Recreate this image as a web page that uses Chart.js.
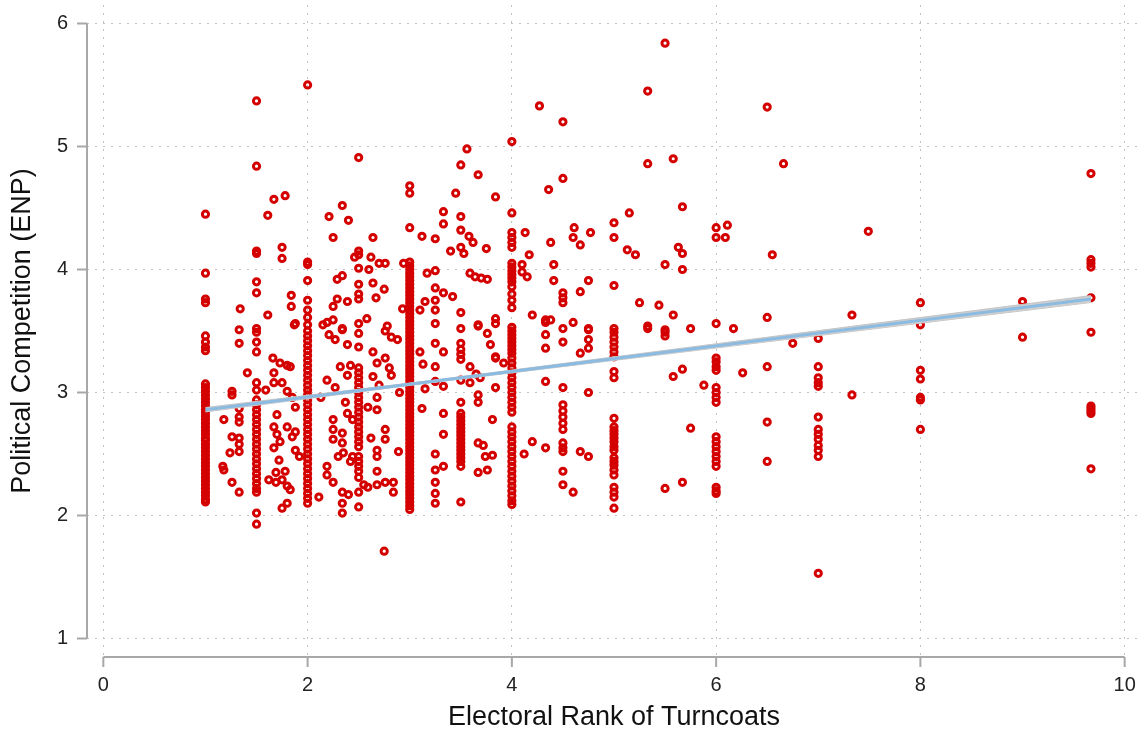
<!DOCTYPE html>
<html>
<head>
<meta charset="utf-8">
<script src="https://cdn.jsdelivr.net/npm/chart.js@4/dist/chart.umd.min.js"></script>
<style>
    body { margin: 0; background: #fff; }
    #wrap { width: 1145px; height: 740px; position: relative; }
</style>
</head>
<body>
<div id="wrap"><canvas id="enpChart"></canvas></div>
<script>
// tick labels
const xTickVals = [0, 2, 4, 6, 8, 10];
const yTickVals = [1, 2, 3, 4, 5, 6];

// ENP values stacked on the common electoral ranks
const rankCols = [1, 1.5, 2, 2.5, 3, 3.5, 4, 4.5, 5, 5.5, 6, 6.5, 7, 8, 9, 9.67];
const enpAt1 = [4.45, 3.97, 3.76, 3.73, 3.46, 3.41, 3.37, 3.34, 3.07, 3.04, 3.01, 2.98, 2.95, 2.92, 2.89, 2.86, 2.84, 2.81, 2.78, 2.75, 2.72, 2.69, 2.66, 2.63, 2.61, 2.58, 2.55, 2.52, 2.49, 2.46, 2.43, 2.40, 2.37, 2.34, 2.31, 2.28, 2.25, 2.22, 2.19, 2.16, 2.13, 2.11];
const enpAt1_5 = [5.37, 4.84, 4.15, 4.13, 3.90, 3.81, 3.52, 3.49, 3.41, 3.33, 3.08, 3.02, 2.94, 2.90, 2.86, 2.82, 2.78, 2.74, 2.70, 2.66, 2.62, 2.58, 2.54, 2.50, 2.46, 2.42, 2.38, 2.34, 2.30, 2.26, 2.22, 2.19, 2.02, 1.93];
const enpAt2 = [5.50, 4.06, 4.04, 3.91, 3.75, 3.67, 3.61, 3.55, 3.50, 3.46, 3.42, 3.38, 3.34, 3.30, 3.26, 3.22, 3.18, 3.14, 3.10, 3.06, 3.02, 2.98, 2.94, 2.90, 2.86, 2.82, 2.78, 2.74, 2.70, 2.66, 2.62, 2.58, 2.54, 2.50, 2.46, 2.42, 2.38, 2.34, 2.30, 2.26, 2.22, 2.18, 2.14, 2.10];
const enpAt2_5 = [4.91, 4.15, 4.12, 4.01, 3.88, 3.80, 3.76, 3.56, 3.48, 3.37, 3.20, 3.16, 3.12, 3.08, 3.04, 3.00, 2.96, 2.92, 2.88, 2.84, 2.80, 2.76, 2.72, 2.68, 2.64, 2.60, 2.56, 2.48, 2.44, 2.40, 2.36, 2.31, 2.19, 2.07];
const enpAt3 = [4.68, 4.62, 4.34, 4.06, 4.03, 4.00, 3.97, 3.94, 3.91, 3.88, 3.85, 3.82, 3.79, 3.76, 3.73, 3.70, 3.67, 3.64, 3.61, 3.58, 3.55, 3.52, 3.49, 3.46, 3.43, 3.40, 3.37, 3.34, 3.31, 3.28, 3.25, 3.22, 3.19, 3.16, 3.13, 3.10, 3.07, 3.04, 3.01, 2.98, 2.95, 2.92, 2.89, 2.86, 2.83, 2.80, 2.77, 2.74, 2.71, 2.68, 2.65, 2.62, 2.59, 2.56, 2.53, 2.50, 2.47, 2.44, 2.41, 2.38, 2.35, 2.32, 2.29, 2.26, 2.23, 2.20, 2.17, 2.14, 2.11, 2.08, 2.05];
const enpAt3_5 = [4.85, 4.43, 4.32, 4.18, 3.65, 3.52, 3.40, 3.35, 3.31, 3.27, 3.10, 2.92, 2.83, 2.80, 2.77, 2.74, 2.71, 2.68, 2.65, 2.62, 2.59, 2.56, 2.53, 2.50, 2.47, 2.44, 2.40, 2.11];
const enpAt4 = [5.04, 4.46, 4.30, 4.26, 4.22, 4.18, 4.05, 4.02, 3.99, 3.96, 3.93, 3.90, 3.86, 3.80, 3.75, 3.69, 3.53, 3.50, 3.47, 3.44, 3.41, 3.38, 3.35, 3.32, 3.28, 3.24, 3.20, 3.16, 3.12, 3.08, 3.04, 3.00, 2.96, 2.92, 2.88, 2.84, 2.72, 2.68, 2.64, 2.60, 2.56, 2.52, 2.48, 2.44, 2.40, 2.36, 2.32, 2.28, 2.24, 2.20, 2.16, 2.12, 2.09];
const enpAt4_5 = [5.20, 4.74, 3.81, 3.77, 3.73, 3.52, 3.41, 3.04, 2.90, 2.85, 2.80, 2.75, 2.70, 2.59, 2.55, 2.52, 2.36, 2.25];
const enpAt5 = [4.38, 4.26, 3.87, 3.52, 3.49, 3.45, 3.41, 3.37, 3.33, 3.29, 3.17, 3.12, 2.79, 2.72, 2.69, 2.66, 2.63, 2.60, 2.56, 2.53, 2.47, 2.44, 2.41, 2.37, 2.33, 2.23, 2.19, 2.15, 2.06];
const enpAt5_5 = [5.84, 3.51, 3.49, 3.46, 2.22];
const enpAt6 = [4.34, 4.26, 3.56, 3.28, 3.25, 3.21, 3.18, 3.04, 3.00, 2.96, 2.92, 2.64, 2.60, 2.56, 2.52, 2.48, 2.44, 2.40, 2.23, 2.20, 2.18];
const enpAt6_5 = [5.32, 3.61, 3.21, 2.76, 2.44];
const enpAt7 = [3.44, 3.21, 3.12, 3.08, 3.05, 2.80, 2.70, 2.66, 2.62, 2.57, 2.53, 2.48, 1.53];
const enpAt8 = [3.73, 3.55, 3.18, 3.11, 2.96, 2.94, 2.70];
const enpAt9 = [3.74, 3.45];
const enpAt9_67 = [4.78, 4.08, 4.05, 4.02, 3.77, 3.49, 2.89, 2.87, 2.85, 2.83, 2.38];
const enpCols = [enpAt1, enpAt1_5, enpAt2, enpAt2_5, enpAt3, enpAt3_5, enpAt4, enpAt4_5, enpAt5, enpAt5_5, enpAt6, enpAt6_5, enpAt7, enpAt8, enpAt9, enpAt9_67];

// turncoats at in-between ranks
const otherRank = [
    1.18, 1.26, 1.26, 1.26, 1.33, 1.33, 1.33, 1.24, 1.18, 1.17, 1.26, 1.33, 1.33, 1.33, 1.33, 1.33, 1.41, 1.34, 1.33,
    1.61, 1.67, 1.78, 1.75, 1.75, 1.84, 1.84, 1.61, 1.87, 1.66, 1.67, 1.67, 1.73, 1.80, 1.83, 1.59, 1.75, 1.80, 1.85, 1.70, 1.67, 1.70, 1.73, 1.67, 1.80, 1.88, 1.85, 1.88, 1.92, 1.69, 1.69, 1.62, 1.75, 1.80, 1.83, 1.80, 1.75, 1.88, 1.88, 1.72, 1.78,
    2.21, 2.34, 2.40, 2.25, 2.29, 2.34, 2.25, 2.29, 2.39, 2.19, 2.25, 2.34, 2.46, 2.21, 2.27, 2.34, 2.39, 2.32, 2.39, 2.19, 2.27, 2.13, 2.37, 2.39, 2.44, 2.25, 2.25, 2.25, 2.34, 2.34, 2.35, 2.30, 2.42, 2.19, 2.19, 2.25, 2.34, 2.40, 2.34, 2.34, 2.11, 2.44, 2.15, 2.42,
    2.64, 2.62, 2.70, 2.76, 2.60, 2.64, 2.75, 2.67, 2.78, 2.93, 2.94, 2.64, 2.68, 2.76, 2.82, 2.88, 2.76, 2.80, 2.82, 2.64, 2.70, 2.68, 2.68, 2.59, 2.76, 2.76, 2.62, 2.68, 2.68, 2.89, 2.68, 2.68, 2.76, 2.84, 2.84, 2.55, 2.59, 2.75, 2.58, 2.90,
    3.12, 3.25, 3.33, 3.33, 3.45, 3.40, 3.17, 3.25, 3.25, 3.33, 3.15, 3.25, 3.42, 3.10, 3.25, 3.25, 3.10, 3.13, 3.25, 3.25, 3.33, 3.25, 3.33, 3.12, 3.33, 3.33, 3.25, 3.25, 3.25, 3.25, 3.33, 3.25, 3.15,
    3.56, 3.67, 3.84, 3.59, 3.64, 3.70, 3.76, 3.75, 3.67, 3.84, 3.59, 3.65, 3.69, 3.67, 3.67, 3.81, 3.67, 3.72, 3.74, 3.81, 3.67, 3.76, 3.59, 3.84, 3.84, 3.76, 3.79, 3.67, 3.84, 3.92, 3.84, 3.53, 3.58, 3.62,
    4.27, 4.36, 4.13, 4.38, 4.17, 4.10, 4.15, 4.41, 4.41, 4.20, 4.33, 4.38, 4.33, 4.33, 4.33, 4.33, 4.20, 4.12, 4.33, 4.10,
    4.61, 4.60, 4.67, 4.77, 4.67, 4.75, 4.60, 4.75, 4.67, 4.75, 4.75, 4.75, 4.75, 4.67, 4.75, 4.60,
    5.15, 5.13, 5.21, 5.25, 5.33, 5.33, 5.58, 5.67, 5.63, 5.67, 5.50, 5.67, 5.44, 5.58, 5.33, 5.75, 5.33, 5.58, 5.67, 5.88, 5.75, 5.67,
    6.11, 6.09, 6.17, 6.26, 6.55, 6.66, 6.75, 7.33, 7.33, 7.49
];
const otherEnp = [
    2.78, 3.01, 2.98, 2.64, 2.63, 2.58, 2.52, 2.51, 2.37, 2.40, 2.27, 2.19, 3.51, 3.40, 2.87, 2.76, 3.16, 3.68, 2.80,
    4.44, 4.57, 4.60, 4.18, 4.09, 3.79, 3.70, 3.63, 3.55, 3.28, 3.16, 3.08, 3.24, 3.22, 3.21, 3.02, 3.08, 3.01, 2.96, 2.82, 2.72, 2.66, 2.60, 2.55, 2.72, 2.68, 2.64, 2.53, 2.48, 2.35, 2.27, 2.29, 2.29, 2.24, 2.21, 2.10, 2.06, 2.88, 3.56, 2.45, 2.36,
    4.43, 4.52, 4.40, 4.26, 3.92, 3.95, 3.70, 3.76, 3.74, 3.57, 3.59, 3.52, 4.10, 3.47, 3.43, 3.51, 3.39, 3.21, 3.14, 3.10, 3.04, 2.96, 2.92, 2.83, 2.78, 2.78, 2.70, 2.62, 2.67, 2.59, 2.51, 2.48, 2.44, 2.40, 2.33, 2.27, 2.19, 2.17, 2.10, 2.02, 2.15, 2.48, 3.55, 3.22,
    4.26, 4.10, 4.05, 4.05, 4.00, 3.89, 3.84, 3.77, 3.54, 3.68, 4.05, 3.33, 3.24, 3.50, 3.45, 3.43, 3.28, 3.20, 3.14, 3.13, 3.06, 2.96, 2.86, 2.88, 2.70, 2.62, 2.63, 2.53, 2.48, 2.52, 2.36, 2.25, 2.27, 2.27, 2.19, 2.25, 2.23, 1.71, 3.60, 3.00,
    4.27, 4.25, 4.47, 4.37, 4.62, 4.15, 3.97, 3.99, 3.85, 3.81, 3.74, 3.75, 3.78, 3.67, 3.67, 3.56, 3.33, 3.23, 3.21, 3.40, 3.33, 3.09, 3.05, 2.87, 2.83, 2.66, 2.37, 2.27, 2.18, 2.10, 2.40, 2.50, 3.03,
    4.98, 4.77, 4.59, 3.97, 3.94, 3.93, 3.92, 4.17, 3.54, 3.60, 3.21, 3.15, 3.12, 2.98, 2.92, 2.78, 2.59, 2.57, 2.48, 2.49, 2.35, 2.37, 3.08, 3.04, 3.28, 3.48, 3.39, 3.55, 3.56, 3.24, 3.29, 4.13, 4.27, 4.22,
    5.33, 4.65, 4.30, 4.22, 4.12, 4.04, 3.94, 4.04, 3.91, 3.63, 3.59, 3.59, 3.57, 3.47, 3.36, 3.09, 2.60, 2.50, 2.55, 3.98,
    4.34, 4.26, 4.20, 4.30, 3.82, 3.91, 3.57, 3.52, 3.32, 3.51, 3.43, 3.36, 3.00, 2.52, 2.48, 2.19,
    4.46, 4.16, 4.12, 3.73, 5.45, 4.86, 4.90, 4.51, 4.18, 4.13, 4.04, 4.00, 3.71, 3.63, 3.54, 3.52, 3.52, 3.13, 3.19, 3.06, 2.71, 2.27,
    4.36, 4.26, 3.52, 3.16, 4.12, 4.86, 3.40, 3.63, 2.98, 4.31
];

// linear fit and its confidence band
const fitRank = [1, 9.67];
const fitEnp = [2.86, 3.76];
const ciRank = [1, 3.2, 9.67];
const ciUpper = [2.878, 3.097, 3.788];
const ciLower = [2.842, 3.079, 3.732];

const pts = [];
rankCols.forEach((r, i) => {
    enpCols[i].forEach(v => pts.push({ x: r, y: v }));
});
otherRank.forEach((r, i) => pts.push({ x: r, y: otherEnp[i] }));

const axisColor = '#a8a8a8';
const textFont = 'Arial, "Liberation Sans", Helvetica, sans-serif';

// Stata style axis lines, kept off the plot region edge
const axisLines = {
    id: 'axisLines',
    afterDraw(chart) {
        const { ctx, chartArea, scales } = chart;
        const xs = scales.x, ys = scales.y;
        ctx.save();
        ctx.strokeStyle = axisColor;
        ctx.lineWidth = 2;
        ctx.beginPath();
        const yLeft = chartArea.left;
        ctx.moveTo(yLeft, ys.getPixelForValue(yTickVals[0]));
        ctx.lineTo(yLeft, ys.getPixelForValue(yTickVals[yTickVals.length - 1]));
        yTickVals.forEach(v => {
            const p = ys.getPixelForValue(v);
            ctx.moveTo(yLeft - 10, p);
            ctx.lineTo(yLeft, p);
        });
        const xBot = chartArea.bottom;
        ctx.moveTo(xs.getPixelForValue(xTickVals[0]), xBot);
        ctx.lineTo(xs.getPixelForValue(xTickVals[xTickVals.length - 1]), xBot);
        xTickVals.forEach(v => {
            const p = xs.getPixelForValue(v);
            ctx.moveTo(p, xBot);
            ctx.lineTo(p, xBot + 10);
        });
        ctx.stroke();
        ctx.restore();
    }
};

new Chart(document.getElementById('enpChart'), {
    type: 'line',
    data: {
        datasets: [
            {
                data: fitRank.map((r, i) => ({ x: r, y: fitEnp[i] })),
                borderColor: '#8cbbe2',
                borderWidth: 3,
                pointRadius: 0,
                fill: false,
                order: 0
            },
            {
                data: ciRank.map((r, i) => ({ x: r, y: ciUpper[i] })),
                borderColor: '#c4c4c4',
                borderWidth: 1,
                backgroundColor: '#cfcfcf',
                pointRadius: 0,
                fill: '+1',
                order: 1
            },
            {
                data: ciRank.map((r, i) => ({ x: r, y: ciLower[i] })),
                borderColor: '#c4c4c4',
                borderWidth: 1,
                pointRadius: 0,
                fill: false,
                order: 2
            },
            {
                data: pts,
                showLine: false,
                pointRadius: 3.1,
                pointBorderWidth: 3,
                pointBorderColor: '#d40000',
                pointBackgroundColor: 'rgba(0,0,0,0)',
                order: 3
            }
        ]
    },
    options: {
        responsive: true,
        maintainAspectRatio: false,
        animation: false,
        layout: { autoPadding: false, padding: { top: 5, right: 4, left: 0, bottom: 0 } },
        plugins: {
            legend: { display: false },
            tooltip: { enabled: false }
        },
        scales: {
            x: {
                type: 'linear',
                min: -0.16,
                max: 10.16,
                afterBuildTicks: s => { s.ticks = xTickVals.map(v => ({ value: v })); },
                afterFit: s => {
                    s.height = 83;
                    s.paddingLeft = 0;
                    s.paddingRight = 0;
                },
                grid: { color: '#c2c2c2', drawTicks: false, lineWidth: 1 },
                border: { display: false, dash: [2, 6] },
                ticks: {
                    autoSkip: false,
                    maxRotation: 0,
                    padding: 16,
                    color: '#222',
                    font: { family: textFont, size: 20 }
                },
                title: {
                    display: true,
                    text: 'Electoral Rank of Turncoats',
                    color: '#111',
                    font: { family: textFont, size: 27 },
                    padding: { top: 0, bottom: 6 }
                }
            },
            y: {
                type: 'linear',
                min: 0.85,
                max: 6.15,
                afterBuildTicks: s => { s.ticks = yTickVals.map(v => ({ value: v })); },
                afterFit: s => {
                    s.width = 87;
                    s.paddingTop = 0;
                    s.paddingBottom = 0;
                },
                grid: { color: '#c2c2c2', drawTicks: false, lineWidth: 1 },
                border: { display: false, dash: [2, 6] },
                ticks: {
                    autoSkip: false,
                    padding: 19,
                    color: '#222',
                    font: { family: textFont, size: 20 }
                },
                title: {
                    display: true,
                    text: 'Political Competition (ENP)',
                    color: '#111',
                    font: { family: textFont, size: 27 },
                    padding: { top: 6, bottom: 0 }
                }
            }
        }
    },
    plugins: [axisLines]
});
</script>
</body>
</html>
